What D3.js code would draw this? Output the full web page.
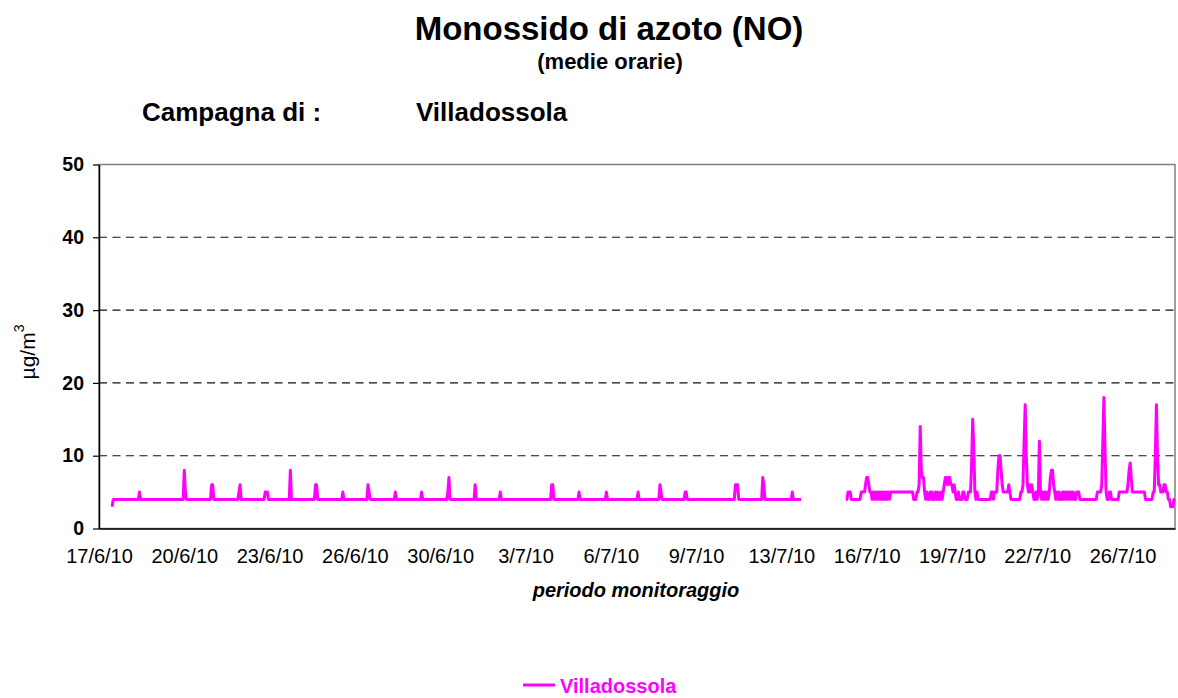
<!DOCTYPE html>
<html>
<head>
<meta charset="utf-8">
<script src="https://cdn.jsdelivr.net/npm/d3@7/dist/d3.min.js"></script>
<style>
  body { margin: 0; background: #fff; }
  svg text { font-family: "Liberation Sans", Arial, sans-serif; fill: #000; }
</style>
</head>
<body>
<div id="chart"></div>
<script>
const _ = null; // no measurement

// Hourly NO averages (ug/m3), one row per day, starting 17/6/10 00:00
const noValues = [
  _,_,_,_,_,_,_,_,_,_,_,_,3,4,4,4,4,4,4,4,4,4,4,4,          // 17/6
  4,4,4,4,4,4,4,4,4,4,4,4,4,5,4,4,4,4,4,4,4,4,4,4,          // 18/6
  4,4,4,4,4,4,4,4,4,4,4,4,4,4,4,4,4,4,4,4,4,4,4,4,          // 19/6
  4,4,4,4,4,4,8,5,4,4,4,4,4,4,4,4,4,4,4,4,4,4,4,4,          // 20/6
  4,4,4,4,4,4,4,6,6,4,4,4,4,4,4,4,4,4,4,4,4,4,4,4,          // 21/6
  4,4,4,4,4,4,4,4,5,6,4,4,4,4,4,4,4,4,4,4,4,4,4,4,          // 22/6
  4,4,4,4,4,4,4,4,5,5,5,4,4,4,4,4,4,4,4,4,4,4,4,4,          // 23/6
  4,4,4,4,4,4,4,8,4,4,4,4,4,4,4,4,4,4,4,4,4,4,4,4,          // 24/6
  4,4,4,4,4,4,6,6,4,4,4,4,4,4,4,4,4,4,4,4,4,4,4,4,          // 25/6
  4,4,4,4,4,4,4,5,4,4,4,4,4,4,4,4,4,4,4,4,4,4,4,4,          // 26/6
  4,4,4,4,4,4,6,5,4,4,4,4,4,4,4,4,4,4,4,4,4,4,4,4,          // 27/6
  4,4,4,4,4,4,4,5,4,4,4,4,4,4,4,4,4,4,4,4,4,4,4,4,          // 28/6
  4,4,4,4,4,4,4,5,4,4,4,4,4,4,4,4,4,4,4,4,4,4,4,4,          // 29/6
  4,4,4,4,4,4,4,5,7,4,4,4,4,4,4,4,4,4,4,4,4,4,4,4,          // 30/6
  4,4,4,4,4,4,4,4,6,4,4,4,4,4,4,4,4,4,4,4,4,4,4,4,          // 1/7
  4,4,4,4,4,4,4,5,4,4,4,4,4,4,4,4,4,4,4,4,4,4,4,4,          // 2/7
  4,4,4,4,4,4,4,4,4,4,4,4,4,4,4,4,4,4,4,4,4,4,4,4,          // 3/7
  4,4,4,4,4,4,6,6,4,4,4,4,4,4,4,4,4,4,4,4,4,4,4,4,          // 4/7
  4,4,4,4,4,4,4,5,4,4,4,4,4,4,4,4,4,4,4,4,4,4,4,4,          // 5/7
  4,4,4,4,4,4,4,4,5,4,4,4,4,4,4,4,4,4,4,4,4,4,4,4,          // 6/7
  4,4,4,4,4,4,4,4,4,4,4,4,4,5,4,4,4,4,4,4,4,4,4,4,          // 7/7
  4,4,4,4,4,4,4,4,4,6,5,4,4,4,4,4,4,4,4,4,4,4,4,4,          // 8/7
  4,4,4,4,4,4,4,4,5,5,4,4,4,4,4,4,4,4,4,4,4,4,4,4,          // 9/7
  4,4,4,4,4,4,4,4,4,4,4,4,4,4,4,4,4,4,4,4,4,4,4,4,          // 10/7
  4,4,4,4,4,4,6,6,6,4,4,4,4,4,4,4,4,4,4,4,4,4,4,4,          // 11/7
  4,4,4,4,4,4,4,7,6,4,4,4,4,4,4,4,4,4,4,4,4,4,4,4,          // 12/7
  4,4,4,4,4,4,4,4,4,4,5,4,4,4,4,4,4,4,4,_,_,_,_,_,          // 13/7
  _,_,_,_,_,_,_,_,_,_,_,_,_,_,_,_,_,_,_,_,_,_,_,_,          // 14/7
  _,_,_,_,_,_,_,_,_,_,_,4,4,5,5,5,4,4,4,4,4,4,4,4,          // 15/7
  4,5,5,5,5,6,7,7,6,5,5,4,5,4,5,4,5,4,5,4,5,4,5,4,          // 16/7
  5,4,5,4,5,5,5,5,5,5,5,5,5,5,5,5,5,5,5,5,5,5,5,5,          // 17/7
  5,4,4,4,5,5,6,14,8,7,7,5,4,5,4,4,5,4,5,4,4,5,4,5,         // 18/7
  4,4,5,4,5,6,7,7,6,7,7,6,6,5,6,5,4,4,5,4,4,4,5,5,          // 19/7
  4,4,4,5,5,5,9,15,11,5,4,5,4,4,4,4,4,4,4,4,4,4,4,4,        // 20/7
  5,5,4,5,5,5,8,10,10,8,6,5,5,5,5,5,6,5,4,4,4,4,4,4,        // 21/7
  4,4,4,5,5,6,12,17,10,6,5,6,5,6,5,4,4,5,4,5,12,5,4,5,      // 22/7
  4,5,4,5,4,5,7,8,8,6,5,4,5,4,5,4,4,5,4,5,4,5,4,5,          // 23/7
  4,5,4,5,4,4,5,5,5,4,4,4,4,4,4,4,4,4,4,4,4,4,4,4,          // 24/7
  4,5,5,5,5,6,12,18,11,5,4,4,5,5,4,4,4,4,4,4,4,5,5,5,       // 25/7
  5,5,5,5,5,6,8,9,7,5,5,5,5,5,5,5,5,5,5,5,5,4,4,4,          // 26/7
  4,4,4,4,5,5,10,17,10,6,6,5,5,5,6,6,5,5,4,4,3,3,3,4,       // 27/7
  4                                                         // 28/7
];

const tickLabels = ['17/6/10', '20/6/10', '23/6/10', '26/6/10', '30/6/10', '3/7/10', '6/7/10',
                    '9/7/10', '13/7/10', '16/7/10', '19/7/10', '22/7/10', '26/7/10'];
const tickStep = 78; // a date label every 78 hourly rows
const yTicks = [0, 10, 20, 30, 40, 50];
const seriesName = 'Villadossola';

const W = 1178, H = 698;
const plot = {left: 99, top: 164.5, right: 1175, bottom: 528.5};
const lineColor = '#ff00ff';

const svg = d3.select('#chart').append('svg')
  .attr('width', W)
  .attr('height', H);

const x = d3.scaleLinear()
  .domain([0, noValues.length - 1])
  .range([plot.left, plot.right]);

const y = d3.scaleLinear()
  .domain([0, 50])
  .range([plot.bottom, plot.top]);

// plot area border (grey, top and right)
svg.append('rect')
  .attr('x', plot.left)
  .attr('y', plot.top)
  .attr('width', plot.right - plot.left)
  .attr('height', plot.bottom - plot.top)
  .attr('fill', 'none')
  .attr('stroke', '#808080')
  .attr('stroke-width', 1.5);

// dashed gridlines
svg.append('g')
  .selectAll('line')
  .data(yTicks.filter(d => d > 0 && d < 50))
  .enter()
  .append('line')
  .attr('x1', plot.left)
  .attr('x2', plot.right)
  .attr('y1', d => y(d))
  .attr('y2', d => y(d))
  .attr('stroke', '#111')
  .attr('stroke-width', 1.1)
  .attr('stroke-dasharray', '8,5.5');

// Y axis
const yAxis = svg.append('g')
  .attr('transform', `translate(${plot.left},0)`)
  .call(d3.axisLeft(y).tickValues(yTicks).tickSize(6).tickSizeOuter(0).tickPadding(9));
yAxis.select('.domain').attr('stroke', '#000').attr('stroke-width', 1.5);
yAxis.selectAll('.tick line').attr('stroke', '#000').attr('stroke-width', 1.2);
yAxis.selectAll('text')
  .style('font-size', '19.5px')
  .style('font-weight', 'bold');

// X axis
const xAxis = svg.append('g')
  .attr('transform', `translate(0,${plot.bottom})`)
  .call(d3.axisBottom(x)
    .tickValues(tickLabels.map((d, i) => i * tickStep))
    .tickFormat(d => tickLabels[d / tickStep])
    .tickSize(0)
    .tickPadding(20.5));
xAxis.select('.domain').attr('stroke', '#000').attr('stroke-width', 1.5);
xAxis.selectAll('text').style('font-size', '20px');

// data line
const line = d3.line()
  .defined(d => d != null)
  .x((d, i) => x(i))
  .y(d => y(d));

svg.append('path')
  .datum(noValues)
  .attr('fill', 'none')
  .attr('stroke', lineColor)
  .attr('stroke-width', 3)
  .attr('stroke-linejoin', 'round')
  .attr('d', line);

// titles
svg.append('text')
  .attr('x', 609)
  .attr('y', 39.5)
  .attr('text-anchor', 'middle')
  .style('font-size', '33px')
  .style('font-weight', 'bold')
  .text('Monossido di azoto (NO)');

svg.append('text')
  .attr('x', 610)
  .attr('y', 69)
  .attr('text-anchor', 'middle')
  .style('font-size', '22px')
  .style('font-weight', 'bold')
  .text('(medie orarie)');

svg.append('text')
  .attr('x', 142)
  .attr('y', 120.5)
  .style('font-size', '26px')
  .style('font-weight', 'bold')
  .text('Campagna di :');

svg.append('text')
  .attr('x', 416)
  .attr('y', 120.5)
  .style('font-size', '26px')
  .style('font-weight', 'bold')
  .text('Villadossola');

// Y axis label
const yLabel = svg.append('text')
  .attr('transform', 'translate(35,352) rotate(-90)')
  .attr('text-anchor', 'middle')
  .style('font-size', '21px');
yLabel.append('tspan').text('µg/m');
yLabel.append('tspan')
  .attr('dy', -11)
  .style('font-size', '14px')
  .text('3');

// X axis label
svg.append('text')
  .attr('x', 636)
  .attr('y', 597)
  .attr('text-anchor', 'middle')
  .style('font-size', '20px')
  .style('font-weight', 'bold')
  .style('font-style', 'italic')
  .text('periodo monitoraggio');

// legend
svg.append('line')
  .attr('x1', 523)
  .attr('x2', 555)
  .attr('y1', 685)
  .attr('y2', 685)
  .attr('stroke', lineColor)
  .attr('stroke-width', 3);

svg.append('text')
  .attr('x', 560)
  .attr('y', 693)
  .style('font-size', '20px')
  .style('font-weight', 'bold')
  .style('fill', lineColor)
  .text(seriesName);
</script>
</body>
</html>
